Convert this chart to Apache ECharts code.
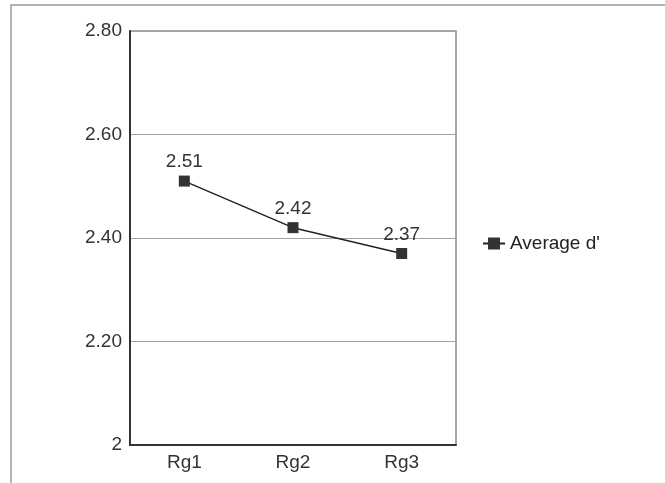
<!DOCTYPE html>
<html lang="en">
<head>
    <meta charset="UTF-8">
    <title>Average d'</title>
    <style>
        html, body { margin: 0; padding: 0; background: #fff; }
        #chart { width: 665px; height: 483px; }
    </style>
</head>
<body>
    <div id="chart"></div>
</body>
<script src="https://cdn.jsdelivr.net/npm/echarts@6/dist/echarts.min.js"></script>
<script type="text/javascript">
    var categories = ['Rg1', 'Rg2', 'Rg3'];
    var averageD = [2.51, 2.42, 2.37];
    var yTicks = [2, 2.2, 2.4, 2.6, 2.8];

    var myChart = echarts.init(document.getElementById('chart'));

    myChart.setOption({
        backgroundColor: '#fff',
        animation: false,
        textStyle: { fontFamily: 'Liberation Sans, Arial, sans-serif' },
        graphic: [{
            // outer frame of the chart area
            type: 'rect',
            shape: { x: 11, y: 5, width: 700, height: 520 },
            style: { fill: 'none', stroke: '#9a9a9a', lineWidth: 1.5 },
            z: -1
        }, {
            // top and right border of the plot
            type: 'polyline',
            shape: { points: [[130, 31], [456, 31], [456, 445]] },
            style: { stroke: '#8a8a8a', lineWidth: 1.5, fill: 'none' }
        }],
        grid: { left: 130, top: 31, width: 326, height: 414 },
        legend: {
            left: 477,
            top: 229,
            itemWidth: 22,
            itemHeight: 15,
            itemGap: 4,
            data: ["Average d'"],
            textStyle: { fontSize: 19, color: '#222' }
        },
        xAxis: {
            type: 'category',
            data: categories,
            boundaryGap: true,
            axisLine: { lineStyle: { color: '#333', width: 2 } },
            axisTick: { show: false },
            axisLabel: { fontSize: 19, color: '#333', margin: 8 }
        },
        yAxis: {
            type: 'value',
            min: yTicks[0],
            max: yTicks[yTicks.length - 1],
            interval: 0.2,
            axisLine: { show: true, lineStyle: { color: '#333', width: 2 } },
            axisTick: { show: false },
            axisLabel: {
                fontSize: 19,
                color: '#333',
                margin: 8,
                formatter: function (v) {
                    return v === 2 ? '2' : v.toFixed(2);
                }
            },
            splitLine: { lineStyle: { color: '#a8a0a0', width: 1 } }
        },
        series: [{
            name: "Average d'",
            type: 'line',
            data: averageD,
            symbol: 'rect',
            symbolSize: 11,
            lineStyle: { color: '#222', width: 1.5 },
            itemStyle: { color: '#333' },
            label: {
                show: true,
                position: 'top',
                distance: 4,
                fontSize: 19,
                color: '#333',
                formatter: function (p) { return p.value.toFixed(2); }
            }
        }]
    });
</script>
</html>
